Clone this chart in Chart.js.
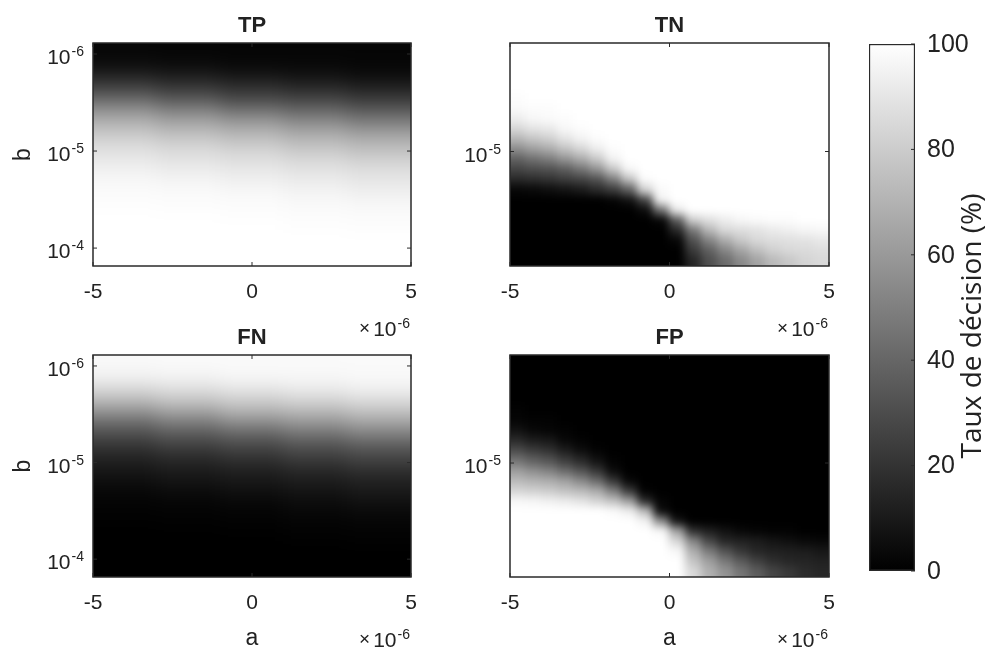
<!DOCTYPE html>
<html>
<head>
<meta charset="utf-8">
<script src="https://cdn.jsdelivr.net/npm/chart.js@4.4.1/dist/chart.umd.min.js"></script>
<style>
  html, body { margin: 0; padding: 0; background: #fff; }
  #page { position: relative; width: 1006px; height: 655px; overflow: hidden; }
  canvas { position: absolute; }
</style>
</head>
<body>
<div id="page">
  <canvas id="tp" width="430" height="345" style="left:0;top:0"></canvas>
  <canvas id="tn" width="430" height="345" style="left:430px;top:0"></canvas>
  <canvas id="fn" width="430" height="335" style="left:0;top:320px"></canvas>
  <canvas id="fp" width="430" height="335" style="left:430px;top:320px"></canvas>
  <canvas id="cbar" width="166" height="655" style="left:840px;top:0"></canvas>
</div>
<script>
// axis extents of the grids (a in units of 1e-6)
const aRange = [-5, 5];
const bRangeTP = [7.7e-7, 1.53e-4];
const bRangeTN = [1.89e-6, 5.8e-5];
const aTicks = [-5, 0, 5];
const bTicksTP = [1e-6, 1e-5, 1e-4];
const bTicksTN = [1e-5];
const cbarRange = [0, 100];
const cbarTicks = [0, 20, 40, 60, 80, 100];

// decision rate (%) per cell, rows from small b (top) to large b (bottom)
const tpGrid = [
  [2, 2, 2, 2, 2], [3, 2, 2, 2, 2], [3, 3, 2, 2, 2], [4, 3, 3, 3, 2], [4, 4, 3, 3, 3],
  [8, 6, 4, 4, 3], [12, 10, 7, 5, 4], [17, 14, 11, 9, 6], [22, 19, 16, 13, 10], [27, 22, 21, 18, 15],
  [33, 28, 22, 20, 19], [40, 34, 28, 26, 21], [48, 41, 34, 32, 27], [54, 48, 42, 39, 33], [60, 54, 48, 42, 40],
  [65, 60, 55, 50, 43], [70, 65, 61, 55, 50], [74, 70, 66, 61, 56], [77, 73, 71, 66, 62], [81, 77, 73, 71, 67],
  [84, 81, 77, 72, 71], [87, 84, 81, 76, 72], [88, 86, 84, 80, 76], [90, 88, 86, 83, 80], [92, 90, 88, 86, 83],
  [93, 91, 90, 87, 86], [95, 93, 91, 89, 87], [96, 94, 93, 91, 89], [97, 96, 94, 92, 90], [98, 97, 95, 94, 92],
  [98, 98, 97, 95, 93], [99, 98, 98, 96, 95], [99, 99, 98, 97, 96], [99, 99, 99, 98, 97], [100, 99, 99, 98, 98],
  [100, 100, 99, 99, 98], [100, 100, 100, 99, 99], [100, 100, 100, 99, 99], [100, 100, 100, 100, 99], [100, 100, 100, 100, 100],
  [100, 100, 100, 100, 100], [100, 100, 100, 100, 100], [100, 100, 100, 100, 100], [100, 100, 100, 100, 100], [100, 100, 100, 100, 100],
  [100, 100, 100, 100, 100]
];

const fnGrid = [
  [98, 98, 98, 98, 98], [97, 98, 98, 98, 98], [97, 97, 98, 98, 98], [96, 97, 97, 97, 98], [96, 96, 97, 97, 97],
  [92, 94, 96, 96, 97], [88, 90, 93, 95, 96], [83, 86, 89, 91, 94], [78, 81, 84, 87, 90], [73, 78, 79, 82, 85],
  [67, 72, 78, 80, 81], [60, 66, 72, 74, 79], [52, 59, 66, 68, 73], [46, 52, 58, 61, 67], [40, 46, 52, 58, 60],
  [35, 40, 45, 50, 57], [30, 35, 39, 45, 50], [26, 30, 34, 39, 44], [23, 27, 29, 34, 38], [19, 23, 27, 29, 33],
  [16, 19, 23, 28, 29], [13, 16, 19, 24, 28], [12, 14, 16, 20, 24], [10, 12, 14, 17, 20], [8, 10, 12, 14, 17],
  [7, 9, 10, 13, 14], [5, 7, 9, 11, 13], [4, 6, 7, 9, 11], [3, 4, 6, 8, 10], [2, 3, 5, 6, 8],
  [2, 2, 3, 5, 7], [1, 2, 2, 4, 5], [1, 1, 2, 3, 4], [1, 1, 1, 2, 3], [0, 1, 1, 2, 2],
  [0, 0, 1, 1, 2], [0, 0, 0, 1, 1], [0, 0, 0, 1, 1], [0, 0, 0, 0, 1], [0, 0, 0, 0, 0],
  [0, 0, 0, 0, 0], [0, 0, 0, 0, 0], [0, 0, 0, 0, 0], [0, 0, 0, 0, 0], [0, 0, 0, 0, 0],
  [0, 0, 0, 0, 0]
];

const tnGrid = [
  [100, 100, 100, 100, 100, 100, 100, 100, 100, 100, 100, 100, 100, 100, 100, 100, 100, 100, 100, 100],
  [100, 100, 100, 100, 100, 100, 100, 100, 100, 100, 100, 100, 100, 100, 100, 100, 100, 100, 100, 100],
  [100, 100, 100, 100, 100, 100, 100, 100, 100, 100, 100, 100, 100, 100, 100, 100, 100, 100, 100, 100],
  [100, 100, 100, 100, 100, 100, 100, 100, 100, 100, 100, 100, 100, 100, 100, 100, 100, 100, 100, 100],
  [100, 100, 100, 100, 100, 100, 100, 100, 100, 100, 100, 100, 100, 100, 100, 100, 100, 100, 100, 100],
  [99, 100, 100, 100, 100, 100, 100, 100, 100, 100, 100, 100, 100, 100, 100, 100, 100, 100, 100, 100],
  [98, 99, 99, 100, 100, 100, 100, 100, 100, 100, 100, 100, 100, 100, 100, 100, 100, 100, 100, 100],
  [93, 97, 98, 99, 100, 100, 100, 100, 100, 100, 100, 100, 100, 100, 100, 100, 100, 100, 100, 100],
  [84, 89, 91, 97, 99, 100, 100, 100, 100, 100, 100, 100, 100, 100, 100, 100, 100, 100, 100, 100],
  [71, 77, 81, 89, 95, 99, 100, 100, 100, 100, 100, 100, 100, 100, 100, 100, 100, 100, 100, 100],
  [55, 62, 67, 76, 84, 93, 99, 100, 100, 100, 100, 100, 100, 100, 100, 100, 100, 100, 100, 100],
  [38, 44, 49, 58, 67, 79, 95, 100, 100, 100, 100, 100, 100, 100, 100, 100, 100, 100, 100, 100],
  [27, 30, 32, 37, 46, 58, 78, 97, 100, 100, 100, 100, 100, 100, 100, 100, 100, 100, 100, 100],
  [16, 18, 20, 24, 27, 33, 50, 77, 99, 100, 100, 100, 100, 100, 100, 100, 100, 100, 100, 100],
  [3, 4, 6, 8, 11, 17, 24, 38, 83, 98, 100, 100, 100, 100, 100, 100, 100, 100, 100, 100],
  [0, 0, 0, 0, 0, 0, 2, 7, 27, 95, 100, 100, 100, 100, 100, 100, 100, 100, 100, 100],
  [0, 0, 0, 0, 0, 0, 0, 0, 5, 45, 92, 100, 100, 100, 100, 100, 100, 100, 100, 100],
  [0, 0, 0, 0, 0, 0, 0, 0, 0, 3, 37, 81, 88, 93, 97, 98, 99, 99, 100, 100],
  [0, 0, 0, 0, 0, 0, 0, 0, 0, 0, 16, 48, 72, 85, 87, 89, 92, 94, 96, 97],
  [0, 0, 0, 0, 0, 0, 0, 0, 0, 0, 3, 32, 52, 68, 79, 85, 87, 88, 89, 91],
  [0, 0, 0, 0, 0, 0, 0, 0, 0, 0, 0, 23, 38, 53, 65, 75, 82, 85, 86, 87],
  [0, 0, 0, 0, 0, 0, 0, 0, 0, 0, 0, 15, 31, 42, 54, 64, 73, 78, 83, 85]
];

const fpGrid = [
  [0, 0, 0, 0, 0, 0, 0, 0, 0, 0, 0, 0, 0, 0, 0, 0, 0, 0, 0, 0],
  [0, 0, 0, 0, 0, 0, 0, 0, 0, 0, 0, 0, 0, 0, 0, 0, 0, 0, 0, 0],
  [0, 0, 0, 0, 0, 0, 0, 0, 0, 0, 0, 0, 0, 0, 0, 0, 0, 0, 0, 0],
  [0, 0, 0, 0, 0, 0, 0, 0, 0, 0, 0, 0, 0, 0, 0, 0, 0, 0, 0, 0],
  [0, 0, 0, 0, 0, 0, 0, 0, 0, 0, 0, 0, 0, 0, 0, 0, 0, 0, 0, 0],
  [1, 0, 0, 0, 0, 0, 0, 0, 0, 0, 0, 0, 0, 0, 0, 0, 0, 0, 0, 0],
  [2, 1, 1, 0, 0, 0, 0, 0, 0, 0, 0, 0, 0, 0, 0, 0, 0, 0, 0, 0],
  [7, 3, 2, 1, 0, 0, 0, 0, 0, 0, 0, 0, 0, 0, 0, 0, 0, 0, 0, 0],
  [16, 11, 9, 3, 1, 0, 0, 0, 0, 0, 0, 0, 0, 0, 0, 0, 0, 0, 0, 0],
  [29, 23, 19, 11, 5, 1, 0, 0, 0, 0, 0, 0, 0, 0, 0, 0, 0, 0, 0, 0],
  [45, 38, 33, 24, 16, 7, 1, 0, 0, 0, 0, 0, 0, 0, 0, 0, 0, 0, 0, 0],
  [62, 56, 51, 42, 33, 21, 5, 0, 0, 0, 0, 0, 0, 0, 0, 0, 0, 0, 0, 0],
  [73, 70, 68, 63, 54, 42, 22, 3, 0, 0, 0, 0, 0, 0, 0, 0, 0, 0, 0, 0],
  [84, 82, 80, 76, 73, 67, 50, 23, 1, 0, 0, 0, 0, 0, 0, 0, 0, 0, 0, 0],
  [97, 96, 94, 92, 89, 83, 76, 62, 17, 2, 0, 0, 0, 0, 0, 0, 0, 0, 0, 0],
  [100, 100, 100, 100, 100, 100, 98, 93, 73, 5, 0, 0, 0, 0, 0, 0, 0, 0, 0, 0],
  [100, 100, 100, 100, 100, 100, 100, 100, 95, 55, 8, 0, 0, 0, 0, 0, 0, 0, 0, 0],
  [100, 100, 100, 100, 100, 100, 100, 100, 100, 97, 63, 19, 12, 7, 3, 2, 1, 1, 0, 0],
  [100, 100, 100, 100, 100, 100, 100, 100, 100, 100, 84, 52, 28, 15, 13, 11, 8, 6, 4, 3],
  [100, 100, 100, 100, 100, 100, 100, 100, 100, 100, 97, 68, 48, 32, 21, 15, 13, 12, 11, 9],
  [100, 100, 100, 100, 100, 100, 100, 100, 100, 100, 100, 77, 62, 47, 35, 25, 18, 15, 14, 13],
  [100, 100, 100, 100, 100, 100, 100, 100, 100, 100, 100, 85, 69, 58, 46, 36, 27, 22, 17, 15]
];

const TEXT = '#222';
const FONT = '"Liberation Sans", Arial, Helvetica, sans-serif';

function gray(v) {
  const g = Math.round(Math.max(0, Math.min(100, v)) * 2.55);
  return `rgb(${g},${g},${g})`;
}

// "10" with a raised exponent, right edge at x
function drawPower(ctx, x, y, exp) {
  ctx.font = `21px ${FONT}`;
  const wBase = ctx.measureText('10').width;
  ctx.font = `14px ${FONT}`;
  const wExp = ctx.measureText(exp).width;
  const left = x - wBase - wExp - 1;
  ctx.textAlign = 'left';
  ctx.textBaseline = 'alphabetic';
  ctx.font = `21px ${FONT}`;
  ctx.fillText('10', left, y);
  ctx.font = `14px ${FONT}`;
  ctx.fillText(exp, left + wBase + 1, y - 8);
  return left;
}

function heatmapLayer(p) {
  return {
    id: 'heatmap',
    beforeDatasetsDraw(chart) {
      const { ctx, chartArea: area, scales: { x, y } } = chart;
      const rows = p.grid.length;
      const cols = p.grid[0].length;
      const [b0, b1] = p.bRange;
      const m = 24; // margin so the smoothing does not fade at the box edge
      const off = document.createElement('canvas');
      off.width = Math.ceil(area.width) + 2 * m;
      off.height = Math.ceil(area.height) + 2 * m;
      const oc = off.getContext('2d');
      oc.translate(m - area.left, m - area.top);
      for (let i = 0; i < rows; i++) {
        let yA = y.getPixelForValue(b0 * Math.pow(b1 / b0, i / rows));
        let yB = y.getPixelForValue(b0 * Math.pow(b1 / b0, (i + 1) / rows));
        if (i === 0) yA -= m;
        if (i === rows - 1) yB += m;
        for (let j = 0; j < cols; j++) {
          let xA = x.getPixelForValue(aRange[0] + (aRange[1] - aRange[0]) * j / cols);
          let xB = x.getPixelForValue(aRange[0] + (aRange[1] - aRange[0]) * (j + 1) / cols);
          if (j === 0) xA -= m;
          if (j === cols - 1) xB += m;
          oc.fillStyle = gray(p.grid[i][j]);
          const top = Math.floor(yA);
          const left = Math.floor(xA);
          oc.fillRect(left, top, Math.ceil(xB) - left, Math.ceil(yB) - top);
        }
      }
      ctx.save();
      ctx.beginPath();
      ctx.rect(area.left, area.top, area.width, area.height);
      ctx.clip();
      ctx.filter = `blur(${p.smooth}px)`;
      ctx.drawImage(off, area.left - m, area.top - m);
      ctx.restore();
    },
    afterDraw(chart) {
      const { ctx, chartArea: area, scales: { x, y } } = chart;
      ctx.save();
      // box
      ctx.strokeStyle = '#2a2a2a';
      ctx.lineWidth = 1.5;
      ctx.strokeRect(area.left, area.top, area.width, area.height);
      // inward ticks
      ctx.lineWidth = 1;
      ctx.beginPath();
      aTicks.forEach(v => {
        const px = x.getPixelForValue(v);
        ctx.moveTo(px, area.bottom); ctx.lineTo(px, area.bottom - 4);
        ctx.moveTo(px, area.top); ctx.lineTo(px, area.top + 4);
      });
      p.bTicks.forEach(v => {
        const py = y.getPixelForValue(v);
        ctx.moveTo(area.left, py); ctx.lineTo(area.left + 4, py);
        ctx.moveTo(area.right, py); ctx.lineTo(area.right - 4, py);
      });
      ctx.stroke();

      ctx.fillStyle = TEXT;
      // title
      ctx.font = `bold 22px ${FONT}`;
      ctx.textAlign = 'center';
      ctx.textBaseline = 'alphabetic';
      ctx.fillText(p.title, (area.left + area.right) / 2, area.top - 11);

      // a tick labels
      ctx.font = `21px ${FONT}`;
      aTicks.forEach(v => {
        ctx.textAlign = 'center';
        ctx.fillText(String(v), x.getPixelForValue(v), area.bottom + 32);
      });

      // b tick labels
      p.bTicks.forEach(v => {
        const exp = String(Math.round(Math.log10(v)));
        drawPower(ctx, area.left - 9, y.getPixelForValue(v) + 10, exp);
      });

      // x10^-6 multiplier
      const left = drawPower(ctx, area.right - 1, area.bottom + 70, '-6');
      ctx.font = `19px ${FONT}`;
      ctx.textAlign = 'right';
      ctx.fillText('\u00d7', left - 3, area.bottom + 68);

      if (p.xLabel) {
        ctx.font = `23px ${FONT}`;
        ctx.textAlign = 'center';
        ctx.fillText('a', (area.left + area.right) / 2, area.bottom + 68);
      }
      if (p.yLabel) {
        ctx.save();
        ctx.translate(30, (area.top + area.bottom) / 2);
        ctx.rotate(-Math.PI / 2);
        ctx.font = `23px ${FONT}`;
        ctx.textAlign = 'center';
        ctx.fillText('b', 0, 0);
        ctx.restore();
      }
      ctx.restore();
    }
  };
}

function makePanel(id, p) {
  return new Chart(document.getElementById(id), {
    type: 'scatter',
    data: { datasets: [] },
    options: {
      responsive: false,
      animation: false,
      events: [],
      layout: { padding: p.pad },
      plugins: { legend: { display: false }, tooltip: { enabled: false } },
      scales: {
        x: { type: 'linear', display: false, min: aRange[0], max: aRange[1] },
        y: { type: 'logarithmic', display: false, reverse: true, min: p.bRange[0], max: p.bRange[1] }
      }
    },
    plugins: [heatmapLayer(p)]
  });
}

makePanel('tp', {
  title: 'TP', grid: tpGrid, bRange: bRangeTP, bTicks: bTicksTP, smooth: 9,
  pad: { left: 93, top: 43, right: 19, bottom: 79 }, yLabel: true, xLabel: false
});
makePanel('tn', {
  title: 'TN', grid: tnGrid, bRange: bRangeTN, bTicks: bTicksTN, smooth: 4,
  pad: { left: 80, top: 43, right: 31, bottom: 79 }, yLabel: false, xLabel: false
});
makePanel('fn', {
  title: 'FN', grid: fnGrid, bRange: bRangeTP, bTicks: bTicksTP, smooth: 9,
  pad: { left: 93, top: 35, right: 19, bottom: 78 }, yLabel: true, xLabel: true
});
makePanel('fp', {
  title: 'FP', grid: fpGrid, bRange: bRangeTN, bTicks: bTicksTN, smooth: 4,
  pad: { left: 80, top: 35, right: 31, bottom: 78 }, yLabel: false, xLabel: true
});

// colour bar: one floating bar from 0 to 100 filled with the grey map
const colorbarText = {
  id: 'colorbarText',
  afterDraw(chart) {
    const { ctx, chartArea: area, scales: { y } } = chart;
    ctx.save();
    ctx.strokeStyle = '#2a2a2a';
    ctx.lineWidth = 1;
    ctx.beginPath();
    cbarTicks.forEach(v => {
      const py = y.getPixelForValue(v);
      ctx.moveTo(area.right, py); ctx.lineTo(area.right - 4, py);
    });
    ctx.stroke();
    ctx.fillStyle = TEXT;
    ctx.font = `25px ${FONT}`;
    ctx.textAlign = 'left';
    ctx.textBaseline = 'middle';
    cbarTicks.forEach(v => ctx.fillText(String(v), area.right + 12, y.getPixelForValue(v) + 1));
    ctx.translate(area.right + 58, 326);
    ctx.rotate(-Math.PI / 2);
    ctx.textAlign = 'center';
    ctx.font = `28px "Open Sans", ${FONT}`;
    ctx.fillText('Taux de décision (%)', 0, 0);
    ctx.restore();
  }
};

new Chart(document.getElementById('cbar'), {
  type: 'bar',
  data: {
    labels: [''],
    datasets: [{
      data: [cbarRange],
      backgroundColor(c) {
        const { chart } = c;
        const area = chart.chartArea;
        if (!area) return '#888';
        const y = chart.scales.y;
        const g = chart.ctx.createLinearGradient(0, y.getPixelForValue(cbarRange[0]), 0, y.getPixelForValue(cbarRange[1]));
        g.addColorStop(0, gray(cbarRange[0]));
        g.addColorStop(1, gray(cbarRange[1]));
        return g;
      },
      borderColor: '#2a2a2a',
      borderWidth: 1.5,
      borderSkipped: false,
      barPercentage: 1,
      categoryPercentage: 1
    }]
  },
  options: {
    responsive: false,
    animation: false,
    events: [],
    layout: { padding: { left: 29, top: 44, right: 91, bottom: 84 } },
    plugins: { legend: { display: false }, tooltip: { enabled: false } },
    scales: {
      x: { display: false },
      y: { display: false, min: cbarRange[0], max: cbarRange[1] }
    }
  },
  plugins: [colorbarText]
});
</script>
</body>
</html>
